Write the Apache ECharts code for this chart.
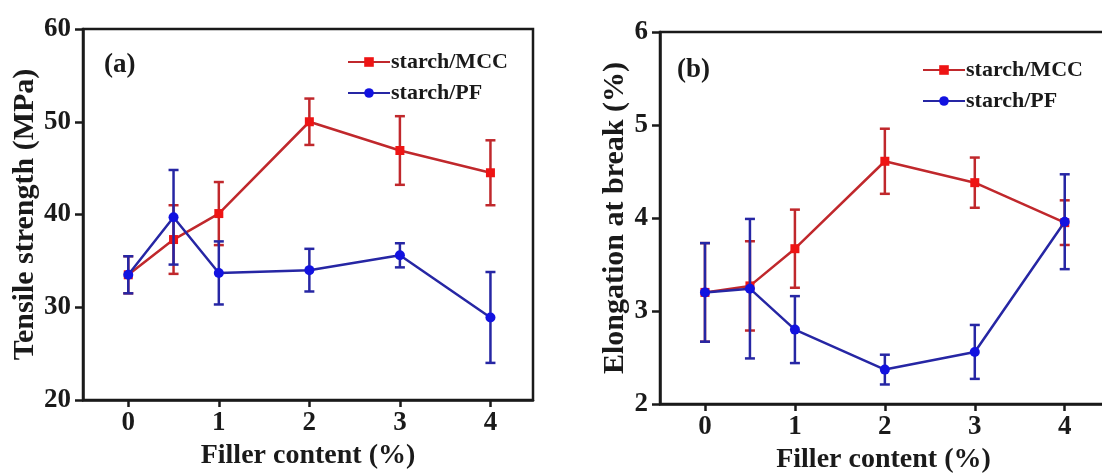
<!DOCTYPE html>
<html>
<head>
<meta charset="utf-8">
<script src="https://cdn.jsdelivr.net/npm/echarts@6/dist/echarts.min.js"></script>
<style>
  html, body {margin: 0; padding: 0; background: #fff;}
  #chart {width: 1102px; height: 474px;}
</style>
</head>
<body>
<div id="chart"></div>
<script>
// filler content (%) for every series
const fillerContent = [0, 0.5, 1, 2, 3, 4];
const xTicks = [0, 1, 2, 3, 4];

// (a) tensile strength, MPa
const tensileMcc = [33.5, 37.3, 40.1, 50.0, 46.9, 44.5];
const tensileMccErr = [2.0, 3.7, 3.4, 2.5, 3.7, 3.5];
const tensilePf = [33.5, 39.7, 33.7, 34.0, 35.6, 28.9];
const tensilePfErr = [2.0, 5.1, 3.4, 2.3, 1.3, 4.9];

// (b) elongation at break, %
const elongMcc = [3.2, 3.27, 3.67, 4.61, 4.38, 3.95];
const elongMccErr = [0.53, 0.48, 0.42, 0.35, 0.27, 0.24];
const elongPf = [3.2, 3.24, 2.8, 2.37, 2.56, 3.96];
const elongPfErr = [0.53, 0.75, 0.36, 0.16, 0.29, 0.51];

const FONT = "'Liberation Serif', 'DejaVu Serif', serif";
const INK = "#1a1a1a";
const RED_LINE = "#c0282c";
const RED_MARK = "#ee1414";
const BLUE_LINE = "#2626a4";
const BLUE_MARK = "#1212e0";

function pairs(values) {
  return fillerContent.map((x, i) => [x, values[i]]);
}

function errData(values, errs) {
  return fillerContent.map((x, i) => [x, values[i] - errs[i], values[i] + errs[i]]);
}

function renderErrorBar(color) {
  return function(params, api) {
    const top = api.coord([api.value(0), api.value(2)]);
    const bottom = api.coord([api.value(0), api.value(1)]);
    const cap = 5;
    const style = {stroke: color, lineWidth: 2.5};
    return {
      type: "group",
      children: [
        {type: "line", shape: {x1: top[0], y1: top[1], x2: bottom[0], y2: bottom[1]}, style: style},
        {type: "line", shape: {x1: top[0] - cap, y1: top[1], x2: top[0] + cap, y2: top[1]}, style: style},
        {type: "line", shape: {x1: bottom[0] - cap, y1: bottom[1], x2: bottom[0] + cap, y2: bottom[1]}, style: style},
      ],
    };
  };
}

function xAxis(gridIndex) {
  return {
    type: "value", gridIndex: gridIndex, min: -0.5, max: 4.47,
    name: "Filler content (%)", nameLocation: "middle", nameGap: 36,
    nameTextStyle: {fontFamily: FONT, fontWeight: "bold", fontSize: 28, color: INK},
    axisLine: {show: true, onZero: false, lineStyle: {color: INK, width: 2.5}},
    axisTick: {show: true, customValues: xTicks, length: 7, lineStyle: {color: INK, width: 2.5}},
    axisLabel: {customValues: xTicks, margin: 10, fontFamily: FONT, fontWeight: "bold", fontSize: 27, color: INK},
    splitLine: {show: false},
  };
}

function yAxis(gridIndex, name, min, max, interval, nameGap) {
  return {
    type: "value", gridIndex: gridIndex, min: min, max: max, interval: interval,
    name: name, nameLocation: "middle", nameGap: nameGap,
    nameTextStyle: {fontFamily: FONT, fontWeight: "bold", fontSize: 30, color: INK},
    axisLine: {show: true, onZero: false, lineStyle: {color: INK, width: 2.5}},
    axisTick: {show: true, length: 8, lineStyle: {color: INK, width: 2.5}},
    axisLabel: {margin: 12, fontFamily: FONT, fontWeight: "bold", fontSize: 27, color: INK},
    splitLine: {show: false},
  };
}

function panelSeries(idx, mcc, mccErr, pf, pfErr) {
  return [
    {
      type: "custom", name: "mcc-err", xAxisIndex: idx, yAxisIndex: idx, z: 2,
      renderItem: renderErrorBar(RED_LINE), data: errData(mcc, mccErr), silent: true,
    },
    {
      type: "line", name: "starch/MCC", xAxisIndex: idx, yAxisIndex: idx, z: 3,
      data: pairs(mcc), symbol: "rect", symbolSize: 9,
      lineStyle: {color: RED_LINE, width: 2.5}, itemStyle: {color: RED_MARK},
    },
    {
      type: "custom", name: "pf-err", xAxisIndex: idx, yAxisIndex: idx, z: 4,
      renderItem: renderErrorBar(BLUE_LINE), data: errData(pf, pfErr), silent: true,
    },
    {
      type: "line", name: "starch/PF", xAxisIndex: idx, yAxisIndex: idx, z: 5,
      data: pairs(pf), symbol: "circle", symbolSize: 10,
      lineStyle: {color: BLUE_LINE, width: 2.5}, itemStyle: {color: BLUE_MARK},
    },
  ];
}

function legend(left, top) {
  return {
    data: ["starch/MCC", "starch/PF"], orient: "vertical", left: left, top: top,
    itemWidth: 42, itemHeight: 12, itemGap: 9, padding: 0,
    textStyle: {fontFamily: FONT, fontWeight: "bold", fontSize: 22, color: INK, padding: [0, 0, 0, -4]},
  };
}

const chart = echarts.init(document.getElementById("chart"), null, {renderer: "canvas"});
chart.setOption({
  animation: false,
  backgroundColor: "#fff",
  title: [
    {text: "(a)", left: 104, top: 52, padding: 0, textStyle: {fontFamily: FONT, fontWeight: "bold", fontSize: 27, color: INK}},
    {text: "(b)", left: 677, top: 57, padding: 0, textStyle: {fontFamily: FONT, fontWeight: "bold", fontSize: 27, color: INK}},
  ],
  legend: [legend(347, 51), legend(922, 59)],
  grid: [
    {left: 83, top: 29, width: 450, height: 371, containLabel: false, outerBoundsMode: "none", show: true, borderColor: INK, borderWidth: 2.5},
    {left: 660, top: 32, width: 447, height: 372, containLabel: false, outerBoundsMode: "none", show: true, borderColor: INK, borderWidth: 2.5},
  ],
  xAxis: [xAxis(0), xAxis(1)],
  yAxis: [
    yAxis(0, "Tensile strength (MPa)", 20, 60, 10, 42),
    yAxis(1, "Elongation at break (%)", 2, 6, 1, 28),
  ],
  series: panelSeries(0, tensileMcc, tensileMccErr, tensilePf, tensilePfErr)
    .concat(panelSeries(1, elongMcc, elongMccErr, elongPf, elongPfErr)),
});
</script>
</body>
</html>
